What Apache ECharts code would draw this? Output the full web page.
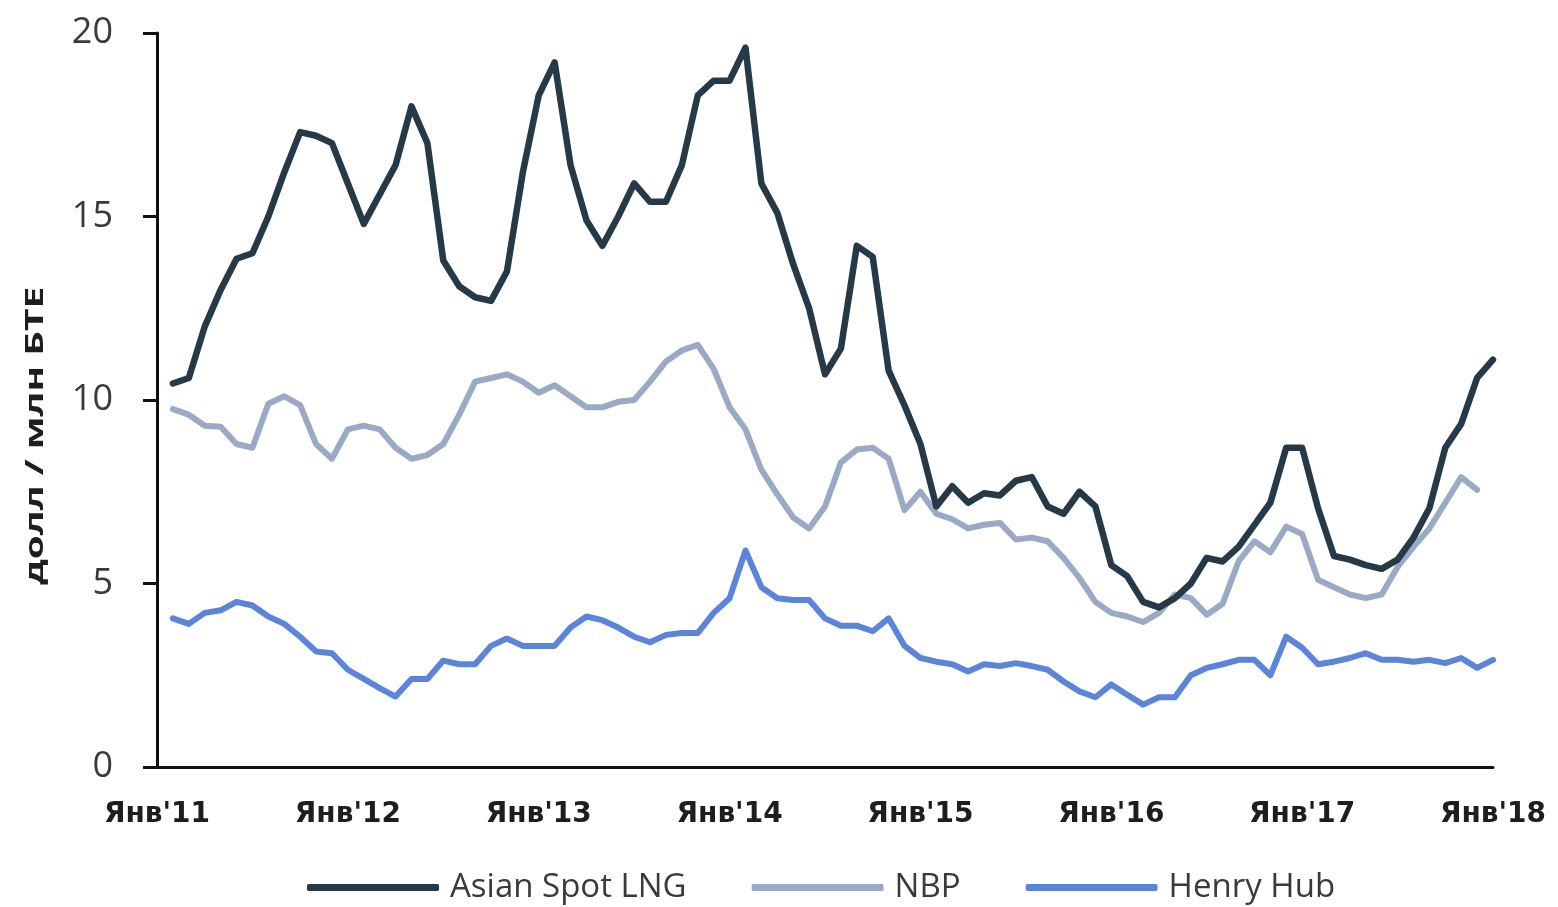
<!DOCTYPE html>
<html>
<head>
<meta charset="utf-8">
<script src="https://cdn.jsdelivr.net/npm/echarts@6/dist/echarts.min.js"></script>
<style>
html,body{margin:0;padding:0;background:#fff;}
#chart{width:1558px;height:907px;}
</style>
</head>
<body>
<div id="chart"></div>
<script>
// Monthly data, Feb 2011 .. Jan 2018 (x = months since Jan 2011: 1..84)
const tickLabels = ["Янв'11","Янв'12","Янв'13","Янв'14","Янв'15","Янв'16","Янв'17","Янв'18"];
const seriesNames = ["Asian Spot LNG","NBP","Henry Hub"];
const asianLNG = [
 10.45,10.6,12.0,13.0,13.85,14.0,15.0,16.2,17.3,17.2,17.0,15.9,
 14.8,15.6,16.4,18.0,17.0,13.8,13.1,12.8,12.7,13.5,16.2,18.3,
 19.2,16.4,14.9,14.2,15.0,15.9,15.4,15.4,16.4,18.3,18.7,18.7,
 19.6,15.9,15.1,13.7,12.5,10.7,11.4,14.2,13.9,10.8,9.85,8.8,
 7.1,7.65,7.2,7.46,7.4,7.8,7.9,7.1,6.9,7.5,7.1,5.5,
 5.2,4.5,4.35,4.6,5.0,5.7,5.6,6.0,6.6,7.2,8.7,8.7,
 7.05,5.75,5.65,5.5,5.4,5.65,6.25,7.05,8.7,9.35,10.6,11.1
];
const nbp = [
 9.75,9.6,9.3,9.27,8.8,8.7,9.9,10.1,9.86,8.8,8.4,9.2,
 9.3,9.2,8.7,8.4,8.5,8.8,9.6,10.5,10.6,10.7,10.5,10.2,
 10.4,10.1,9.8,9.8,9.95,10.0,10.5,11.05,11.35,11.5,10.85,9.8,
 9.2,8.1,7.43,6.8,6.5,7.1,8.3,8.65,8.7,8.4,7.0,7.5,
 6.9,6.75,6.5,6.6,6.65,6.2,6.25,6.15,5.7,5.15,4.5,4.2,
 4.1,3.95,4.2,4.7,4.6,4.15,4.45,5.6,6.15,5.85,6.55,6.35,
 5.1,4.9,4.7,4.6,4.7,5.45,6.0,6.5,7.2,7.9,7.55
];
const henryHub = [
 4.05,3.9,4.2,4.27,4.5,4.4,4.1,3.9,3.55,3.15,3.1,2.65,
 2.4,2.15,1.92,2.4,2.4,2.9,2.8,2.8,3.3,3.5,3.3,3.3,
 3.3,3.8,4.1,4.0,3.8,3.55,3.4,3.6,3.65,3.65,4.2,4.6,
 5.9,4.9,4.6,4.55,4.55,4.05,3.85,3.85,3.7,4.05,3.3,2.97,
 2.87,2.8,2.6,2.8,2.75,2.83,2.75,2.65,2.33,2.06,1.9,2.25,
 1.97,1.7,1.9,1.9,2.5,2.7,2.8,2.92,2.92,2.5,3.55,3.25,
 2.8,2.87,2.97,3.1,2.92,2.92,2.87,2.92,2.83,2.97,2.7,2.92
];
const yTicks = [0,5,10,15,20];
const yTitle = "долл / млн БТЕ";

const toPairs = arr => arr.map((v,i)=>[i+1,v]);
const colors = ["#253946","#9aaac6","#5c84d8"];

const chart = echarts.init(document.getElementById('chart'), null, {renderer:'canvas'});
chart.setOption({
  animation:false,
  backgroundColor:'#ffffff',
  color:colors,
  grid:{left:157,right:65,top:33,bottom:140,containLabel:false},
  xAxis:{
    type:'value', min:0, max:84, interval:12,
    splitLine:{show:false},
    axisLine:{show:true,onZero:false,lineStyle:{color:'#111',width:3}},
    axisTick:{show:false},
    axisLabel:{
      formatter:v=>tickLabels[Math.round(v/12)],
      fontFamily:'DejaVu Sans',fontWeight:'bold',fontSize:28,color:'#1e1e1e',margin:34,
      showMinLabel:true,showMaxLabel:true
    }
  },
  yAxis:{
    type:'value', min:yTicks[0], max:yTicks[yTicks.length-1], interval:5,
    splitLine:{show:false},
    axisLine:{show:true,onZero:false,lineStyle:{color:'#111',width:3}},
    axisTick:{show:true,length:14,lineStyle:{color:'#111',width:3}},
    axisLabel:{fontFamily:'Open Sans',fontSize:36,color:'#3a3a3a',margin:44}
  },
  legend:{
    left:302, top:866,
    itemWidth:132, itemHeight:7, itemGap:65,
    icon:'roundRect',
    textStyle:{fontFamily:'Open Sans',fontSize:33,color:'#3a3a3a',padding:[0,0,0,6]},
    data:seriesNames
  },
  graphic:[{
    type:'text', x:36, y:436, rotation:Math.PI/2, scaleX:1.55,
    style:{text:yTitle, font:'bold 25px "Open Sans"', fill:'#1e1e1e', textAlign:'center', textVerticalAlign:'middle'}
  }],
  series:[
    {name:seriesNames[0],type:'line',data:toPairs(asianLNG),showSymbol:false,symbol:'none',
     lineStyle:{width:6.5,color:colors[0],join:'round',cap:'round'},z:3},
    {name:seriesNames[1],type:'line',data:toPairs(nbp),showSymbol:false,symbol:'none',
     lineStyle:{width:6,color:colors[1],join:'round',cap:'round'},z:2},
    {name:seriesNames[2],type:'line',data:toPairs(henryHub),showSymbol:false,symbol:'none',
     lineStyle:{width:6,color:colors[2],join:'round',cap:'round'},z:2}
  ]
});
</script>
</body>
</html>
